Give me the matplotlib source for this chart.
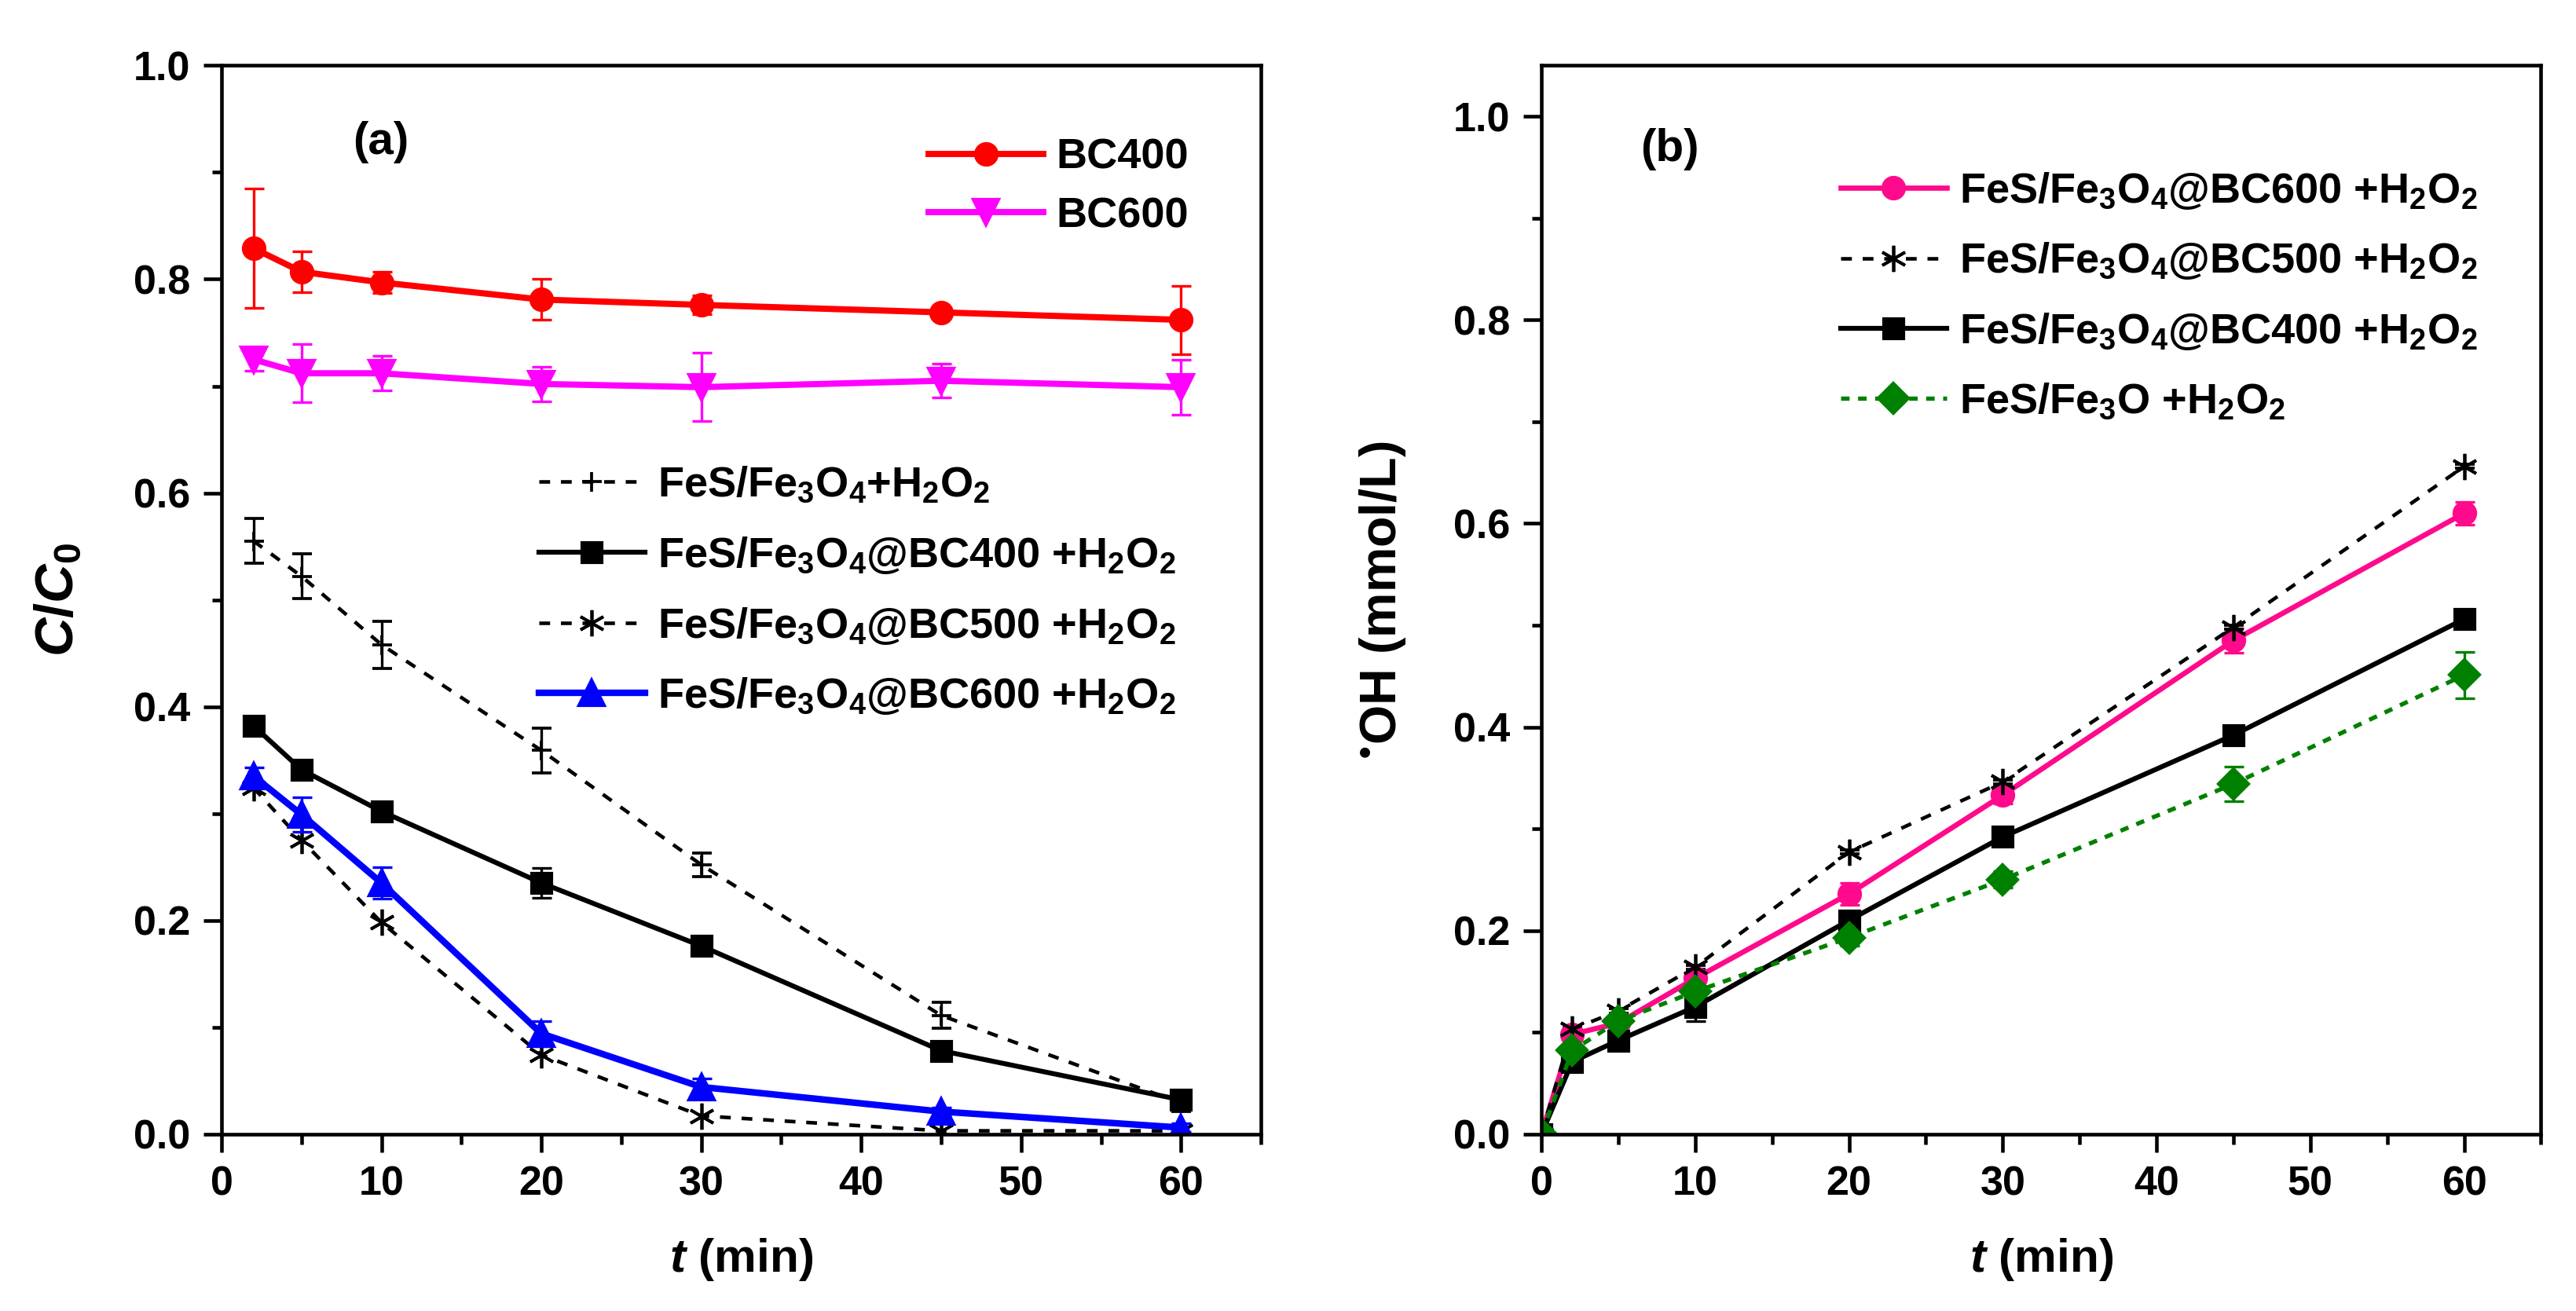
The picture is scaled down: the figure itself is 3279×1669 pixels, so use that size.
import numpy as np
import matplotlib
matplotlib.use("Agg")
import matplotlib.pyplot as plt
from matplotlib.ticker import MultipleLocator, FormatStrFormatter

# ===== fonts =====
plt.rcParams["font.family"] = ["Liberation Sans", "DejaVu Sans"]
plt.rcParams["font.weight"] = "bold"
plt.rcParams["axes.labelweight"] = "bold"
plt.rcParams["mathtext.fontset"] = "custom"
plt.rcParams["mathtext.rm"] = "Liberation Sans:bold"
plt.rcParams["mathtext.it"] = "Liberation Sans:italic:bold"
plt.rcParams["mathtext.bf"] = "Liberation Sans:bold"

# ===== data, panel (a) =====
t_a = [2, 5, 10, 20, 30, 45, 60]
bc400 = [0.829, 0.807, 0.797, 0.781, 0.776, 0.769, 0.762]
bc400_err = [0.056, 0.019, 0.010, 0.019, 0.009, 0.004, 0.032]
bc600 = [0.725, 0.712, 0.712, 0.702, 0.699, 0.705, 0.699]
bc600_err = [0.011, 0.027, 0.016, 0.016, 0.032, 0.016, 0.026]
fes = [0.555, 0.522, 0.458, 0.359, 0.252, 0.111, 0.029]
fes_err = [0.021, 0.021, 0.022, 0.021, 0.011, 0.012, 0.008]
fes_bc400 = [0.382, 0.341, 0.302, 0.235, 0.176, 0.078, 0.032]
fes_bc400_err = [0.004, 0.004, 0.004, 0.014, 0.005, 0.005, 0.008]
fes_bc500 = [0.324, 0.275, 0.198, 0.074, 0.017, 0.003, 0.003]
fes_bc600 = [0.335, 0.299, 0.235, 0.094, 0.044, 0.021, 0.006]
fes_bc600_err = [0.008, 0.016, 0.015, 0.012, 0.008, 0.004, 0.004]

# ===== data, panel (b) =====
t_b = [0, 2, 5, 10, 20, 30, 45, 60]
oh_bc600 = [0, 0.098, 0.109, 0.153, 0.236, 0.333, 0.485, 0.610]
oh_bc600_err = [0, 0.005, 0.005, 0.008, 0.011, 0.008, 0.012, 0.011]
oh_bc500 = [0, 0.103, 0.121, 0.164, 0.277, 0.346, 0.498, 0.656]
oh_bc500_err = [0, 0.002, 0.002, 0.002, 0.002, 0.002, 0.002, 0.002]
oh_bc400 = [0, 0.071, 0.092, 0.125, 0.210, 0.292, 0.392, 0.506]
oh_bc400_err = [0, 0.005, 0.005, 0.014, 0.005, 0.005, 0.005, 0.005]
oh_fes = [0, 0.082, 0.111, 0.140, 0.193, 0.250, 0.344, 0.451]
oh_fes_err = [0, 0.005, 0.005, 0.008, 0.008, 0.008, 0.017, 0.023]

lab_fes = r"FeS/Fe$_3$O$_4$+H$_2$O$_2$"
lab_400 = r"FeS/Fe$_3$O$_4$@BC400 +H$_2$O$_2$"
lab_500 = r"FeS/Fe$_3$O$_4$@BC500 +H$_2$O$_2$"
lab_600 = r"FeS/Fe$_3$O$_4$@BC600 +H$_2$O$_2$"
lab_fes_b = r"FeS/Fe$_3$O +H$_2$O$_2$"

ASTER = (6, 2, 0)


def style_axes(ax, ymax, ymajor):
    ax.set_xlim(0, 65)
    ax.set_ylim(0, ymax)
    ax.xaxis.set_major_locator(MultipleLocator(10))
    ax.xaxis.set_minor_locator(MultipleLocator(5))
    ax.yaxis.set_major_locator(MultipleLocator(ymajor))
    ax.yaxis.set_minor_locator(MultipleLocator(ymajor / 2))
    ax.yaxis.set_major_formatter(FormatStrFormatter("%.1f"))
    ax.tick_params(which="both", direction="out", top=False, right=False,
                   width=1.1, labelsize=12.5, pad=4)
    ax.tick_params(which="major", length=5.5)
    ax.tick_params(which="minor", length=3)
    for s in ax.spines.values():
        s.set_linewidth(1.1)
    ax.set_xlabel(r"$t$ (min)", fontsize=14.5, labelpad=10)


def eb(ax, x, y, err, **kw):
    # returns only the data line, so legends show no error bars
    c = ax.errorbar(x, y, yerr=err, capsize=3, elinewidth=0.8,
                    capthick=0.8, **kw)
    return c[0]


def legend(ax, handles, labels, anchor, spacing, hlen=2.5):
    return ax.legend(handles, labels, loc="upper left", bbox_to_anchor=anchor,
                     frameon=False, fontsize=13, handlelength=hlen,
                     handletextpad=0.3, labelspacing=spacing, borderpad=0,
                     borderaxespad=0, numpoints=1)


fig = plt.figure(figsize=(3279 / 300, 1669 / 300), dpi=300)
ax1 = fig.add_axes([0.086, 0.135, 0.4035, 0.815])
ax2 = fig.add_axes([0.5984, 0.135, 0.388, 0.815])

# ---- panel (a) ----
h_bc400 = eb(ax1, t_a, bc400, bc400_err, color="#FF0000", lw=1.9, marker="o", ms=6.5)
h_bc600 = eb(ax1, t_a, bc600, bc600_err, color="#FF00FF", lw=1.9, marker="v", ms=7.5)
h_fes = eb(ax1, t_a, fes, fes_err, color="black", lw=1.1, dashes=(3, 3),
           marker="+", ms=6, mew=0.9)
h_400 = eb(ax1, t_a, fes_bc400, fes_bc400_err, color="black", lw=1.5, marker="s", ms=6)
h_500, = ax1.plot(t_a, fes_bc500, color="black", lw=1.1, dashes=(3, 3),
                  marker=ASTER, ms=8, mew=0.9)
h_600 = eb(ax1, t_a, fes_bc600, fes_bc600_err, color="#0000FF", lw=2.0, marker="^", ms=7.5)

style_axes(ax1, 1.0, 0.2)
ax1.set_ylabel(r"$C/C_\mathrm{0}$", fontsize=16.5, labelpad=15)
ax1.text(0.153, 0.928, "(a)", transform=ax1.transAxes, fontsize=14,
         ha="center", va="center")

leg1 = legend(ax1, [h_bc400, h_bc600], ["BC400", "BC600"], (0.68, 0.932), 0.45, 2.7)
ax1.add_artist(leg1)
legend(ax1, [h_fes, h_400, h_500, h_600], [lab_fes, lab_400, lab_500, lab_600],
       (0.305, 0.626), 0.7)

# ---- panel (b) ----
g_600 = eb(ax2, t_b, oh_bc600, oh_bc600_err, color="#FF0A8C", lw=1.6, marker="o", ms=6.5)
g_500 = eb(ax2, t_b, oh_bc500, oh_bc500_err, color="black", lw=1.1, dashes=(3, 3),
           marker=ASTER, ms=8, mew=0.9)
g_400 = eb(ax2, t_b, oh_bc400, oh_bc400_err, color="black", lw=1.5, marker="s", ms=6)
g_fes = eb(ax2, t_b, oh_fes, oh_fes_err, color="#008000", lw=1.3, dashes=(2, 2),
           marker="D", ms=6.5)

style_axes(ax2, 1.05, 0.2)
ax2.set_ylabel("$^{\\mathrm{\u2022}}$OH (mmol/L)", fontsize=15.5, labelpad=14)
ax2.text(0.128, 0.922, "(b)", transform=ax2.transAxes, fontsize=14,
         ha="center", va="center")
legend(ax2, [g_600, g_500, g_400, g_fes], [lab_600, lab_500, lab_400, lab_fes_b],
       (0.299, 0.902), 0.7)

fig.savefig("out.png", dpi=300)
